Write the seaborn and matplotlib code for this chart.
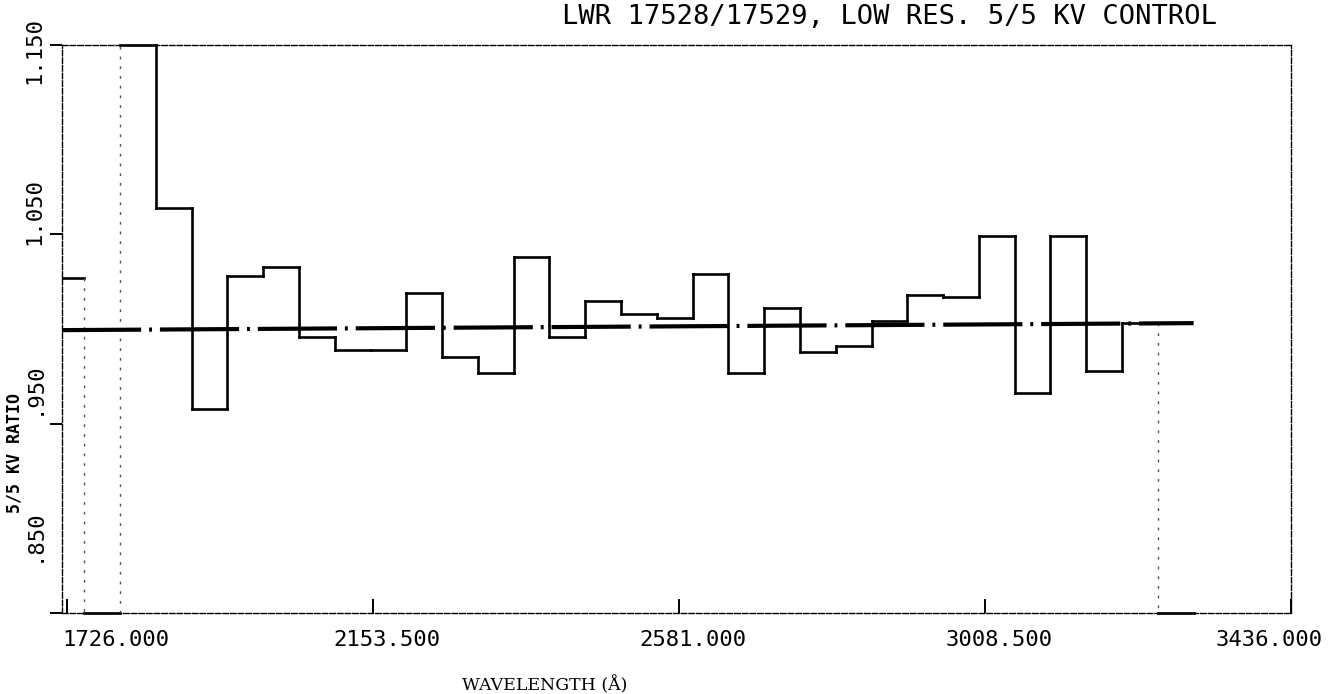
import numpy as np
import pandas as pd
import matplotlib
matplotlib.use("Agg")
import matplotlib.pyplot as plt
import matplotlib.transforms as mtransforms
import seaborn as sns

# ---------------- data ----------------
bin_start = [1700, 1750, 1800, 1850, 1900, 1950, 2000, 2050, 2100, 2150,
             2200, 2250, 2300, 2350, 2400, 2450, 2500, 2550, 2600, 2650,
             2700, 2750, 2800, 2850, 2900, 2950, 3000, 3050, 3100, 3150,
             3200, 3250]
last_edge = 3300
ratio = [1.027, 0.800, 1.200, 1.064, 0.958, 1.028, 1.033, 0.996, 0.989, 0.989,
         1.019, 0.985, 0.977, 1.038, 0.996, 1.015, 1.008, 1.006, 1.029, 0.977,
         1.011, 0.988, 0.991, 1.004, 1.018, 1.017, 1.049, 0.966, 1.049, 0.978,
         1.003, 0.800]
fit_wavelength = [1719, 3300]
fit_ratio = [0.9994, 1.0031]

x_ticks = [1726.0, 2153.5, 2581.0, 3008.5, 3436.0]
x_tick_labels = ["1726.000", "2153.500", "2581.000", "3008.500", "3436.000"]
y_ticks = [0.85, 0.95, 1.05, 1.15]
y_tick_labels = [".850", ".950", "1.050", "1.150"]

title_text = "LWR 17528/17529, LOW RES. 5/5 KV CONTROL"
x_label = "WAVELENGTH (Å)"
y_label = "5/5 KV RATIO"

x_range = (1719, 3436)
y_range = (0.85, 1.15)

# ---------------- figure ----------------
sns.set_style("white")
plt.rcParams["font.family"] = ["DejaVu Sans Mono", "DejaVu Sans"]

W, H = 1328, 694
fig = plt.figure(figsize=(W / 100, H / 100), dpi=100)
ax = fig.add_axes([62 / W, 1 - 613 / H, 1229 / W, 568 / H])

# step curve split into horizontal pieces and vertical risers
edges = bin_start + [last_edge]
vals = np.clip(ratio, y_range[0], y_range[1])
h_rows = []
for i, v in enumerate(vals):
    h_rows.append({"seg": i, "wavelength": edges[i], "ratio": v})
    h_rows.append({"seg": i, "wavelength": edges[i + 1], "ratio": v})
h_df = pd.DataFrame(h_rows)

v_small, v_large = [], []
for i in range(1, len(vals)):
    rows = [{"seg": i, "wavelength": edges[i], "ratio": vals[i - 1]},
            {"seg": i, "wavelength": edges[i], "ratio": vals[i]}]
    (v_large if abs(vals[i] - vals[i - 1]) > 0.15 else v_small).extend(rows)
v_small_df = pd.DataFrame(v_small)
v_large_df = pd.DataFrame(v_large)

clip_bbox = mtransforms.TransformedBbox(
    mtransforms.Bbox([[0, -0.01], [1, 1.01]]), ax.transAxes)

n0 = len(ax.lines)
sns.lineplot(data=h_df, x="wavelength", y="ratio", units="seg", estimator=None,
             sort=False, color="black", linewidth=1.9, ax=ax)
sns.lineplot(data=v_small_df, x="wavelength", y="ratio", units="seg",
             estimator=None, sort=False, color="black", linewidth=1.9, ax=ax)
for ln in ax.lines[n0:]:
    ln.set_clip_box(clip_bbox)
    ln.set_solid_capstyle("projecting")
n1 = len(ax.lines)
sns.lineplot(data=v_large_df, x="wavelength", y="ratio", units="seg",
             estimator=None, sort=False, color="#555555", linewidth=1.0, ax=ax)
for ln in ax.lines[n1:]:
    ln.set_dashes([2, 5])
    ln.set_clip_box(clip_bbox)

sns.lineplot(x=fit_wavelength, y=fit_ratio, color="black",
             linewidth=3.0, estimator=None, sort=False, ax=ax)
fit_line = ax.lines[-1]
fit_line.set_dashes([19, 1.9, 0.7, 1.9])
fit_line.set_dash_capstyle("butt")

ax.set_xlim(*x_range)
ax.set_ylim(*y_range)
ax.set_xlabel("")
ax.set_ylabel("")

ax.set_xticks(x_ticks)
ax.set_xticklabels(x_tick_labels)
ax.set_yticks(y_ticks)
ax.set_yticklabels(y_tick_labels)

ax.tick_params(axis="x", direction="in", length=10, width=1.4, pad=12,
               labelsize=16, colors="black", bottom=True)
ax.tick_params(axis="y", direction="out", length=9, width=1.4, pad=4,
               labelsize=16, colors="black", left=True)

# nudge tick labels like the plotter output
x_dx = [49, 14, 14, 14, -22]
for lab, dx in zip(ax.get_xticklabels(), x_dx):
    lab.set_transform(lab.get_transform() +
                      mtransforms.ScaledTranslation(dx / 100, 0, fig.dpi_scale_trans))
y_dy = [78, 35, 23, -6]
for lab, dy in zip(ax.get_yticklabels(), y_dy):
    lab.set_rotation(90)
    lab.set_va("center")
    lab.set_ha("right")
    lab.set_transform(lab.get_transform() +
                      mtransforms.ScaledTranslation(0, dy / 100, fig.dpi_scale_trans))

for side, sp in ax.spines.items():
    sp.set_visible(True)
    sp.set_color("black")
    sp.set_linewidth(1.0)
    sp.set_linestyle((0, (4, 1.5)))

ax.set_xlabel(x_label, family="DejaVu Serif", fontsize=12.5, color="black")
ax.xaxis.set_label_coords((545 - 62) / 1229, (613 - 690) / 568)
ax.xaxis.label.set_va("baseline")

ax.set_ylabel(y_label, fontsize=12, fontweight="bold", color="black")
ax.yaxis.set_label_coords((24 - 62) / 1229, (613 - 453) / 568)

fig.text(889 / W, 1 - 17 / H, title_text, ha="center", va="center",
         fontsize=19.5, color="black")

ax.grid(False)
fig.savefig("out.png", dpi=100)
